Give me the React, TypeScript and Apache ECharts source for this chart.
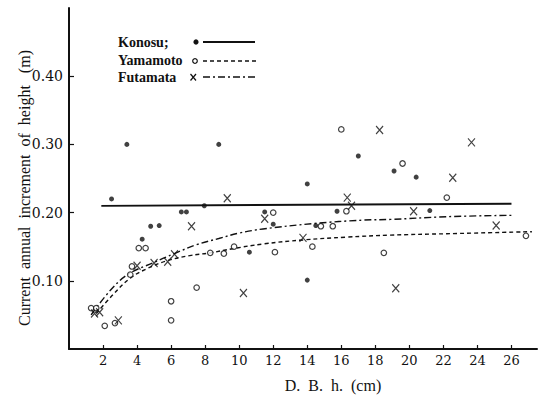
import React, { useEffect, useRef } from "react";
import * as echarts from "echarts";

const xTicks = [2, 4, 6, 8, 10, 12, 14, 16, 18, 20, 22, 24, 26];
const yTicks = [0.1, 0.2, 0.3, 0.4];

const konosuPoints = [
  [2.5, 0.22], [3.4, 0.3], [4.3, 0.161], [4.8, 0.18], [5.3, 0.181], [6.6, 0.201], [6.9, 0.201],
  [7.95, 0.21], [8.8, 0.3], [10.6, 0.142], [11.5, 0.201], [12.0, 0.183], [14.0, 0.242],
  [14.0, 0.101], [14.5, 0.181], [15.75, 0.202], [17.0, 0.283], [19.1, 0.261], [20.4, 0.252],
  [21.2, 0.203],
];

const yamamotoPoints = [
  [1.3, 0.06], [1.6, 0.06], [2.1, 0.034], [2.7, 0.038], [3.6, 0.109], [3.7, 0.121], [4.1, 0.148],
  [4.5, 0.148], [6.0, 0.07], [6.0, 0.042], [7.5, 0.09], [8.3, 0.141], [9.1, 0.14], [9.7, 0.15],
  [12.0, 0.2], [12.1, 0.142], [14.3, 0.15], [14.8, 0.18], [15.5, 0.18], [16.0, 0.322],
  [16.3, 0.202], [18.5, 0.141], [19.6, 0.272], [22.2, 0.222], [26.85, 0.166],
];

const futamataPoints = [
  [1.5, 0.052], [1.8, 0.054], [2.9, 0.042], [4.0, 0.122], [5.0, 0.126], [5.8, 0.128],
  [6.2, 0.139], [7.2, 0.18], [9.3, 0.221], [10.25, 0.082], [11.5, 0.191], [13.75, 0.163],
  [16.35, 0.222], [16.6, 0.21], [18.25, 0.321], [19.2, 0.089], [20.25, 0.202], [22.55, 0.251],
  [23.65, 0.303], [25.1, 0.181],
];

const konosuLine = [[1.9, 0.21], [26.0, 0.213]];

const yamamotoCurve = [
  [1.6, 0.052], [2.6, 0.08], [3.6, 0.104], [4.6, 0.118], [5.7, 0.129], [7.1, 0.137], [8.3, 0.141],
  [9.6, 0.147], [11.4, 0.154], [13.8, 0.16], [16.3, 0.164], [18.9, 0.167], [22.2, 0.169],
  [27.2, 0.172],
];

const futamataCurve = [
  [1.3, 0.05], [2.5, 0.088], [3.5, 0.11], [4.9, 0.126], [6.2, 0.14], [7.5, 0.153], [8.8, 0.162],
  [10.0, 0.17], [11.4, 0.176], [14.4, 0.184], [17.3, 0.189], [18.9, 0.19], [22.2, 0.194],
  [26.0, 0.196],
];

const legendNames = ["Konosu;", "Yamamoto", "Futamata"];
const yName = "Current\u00a0\u00a0annual\u00a0\u00a0increment\u00a0\u00a0of\u00a0\u00a0height\u00a0\u00a0\u00a0(m)";
const xName = "D.\u00a0\u00a0B.\u00a0\u00a0h.\u00a0\u00a0(cm)";

const INK = "#111";
const CROSS = "path://M0,0L10,10M10,0L0,10";
const SERIF = "Liberation Serif";
const TICK_FONT = "DejaVu Serif";

export default function App() {
  const ref = useRef<HTMLDivElement>(null);
  useEffect(() => {
    if (!ref.current) return;
    const chart = echarts.init(ref.current, undefined, { renderer: "svg" });
    const legendText = (text: string, y: number) => ({
      type: "text", x: 118, y,
      style: { text, fontFamily: SERIF, fontSize: 14, fontWeight: "bold", fill: INK, align: "left", verticalAlign: "middle" },
    });
    chart.setOption({
      animation: false,
      backgroundColor: "#fff",
      grid: { left: 69, right: 5, top: 8, bottom: 46, containLabel: false },
      xAxis: {
        type: "value",
        min: 0,
        max: 27.5,
        interval: 2,
        axisLine: { show: true, lineStyle: { color: INK, width: 2 } },
        axisTick: { show: true, inside: true, length: 4, customValues: xTicks, lineStyle: { color: INK, width: 1.2 } },
        axisLabel: { customValues: xTicks, color: INK, fontFamily: TICK_FONT, fontSize: 13, margin: 5 },
        splitLine: { show: false },
      },
      yAxis: {
        type: "value",
        min: 0,
        max: 0.5,
        interval: 0.1,
        axisLine: { show: true, lineStyle: { color: INK, width: 2 } },
        axisTick: { show: true, inside: true, length: 5, customValues: yTicks, lineStyle: { color: INK, width: 1.2 } },
        axisLabel: {
          customValues: yTicks,
          color: INK,
          fontFamily: TICK_FONT,
          fontSize: 14,
          margin: 6,
          formatter: (v: number) => v.toFixed(2),
        },
        splitLine: { show: false },
      },
      series: [
        {
          name: "KonosuLine", type: "line", data: konosuLine, symbol: "none",
          lineStyle: { color: INK, width: 1.8 }, z: 2,
        },
        {
          name: "YamamotoCurve", type: "line", data: yamamotoCurve, symbol: "none", smooth: 0.4,
          lineStyle: { color: INK, width: 1.4, type: [4, 3] }, z: 2,
        },
        {
          name: "FutamataCurve", type: "line", data: futamataCurve, symbol: "none", smooth: 0.4,
          lineStyle: { color: INK, width: 1.4, type: [7, 3, 2, 3] }, z: 2,
        },
        {
          name: legendNames[0], type: "scatter", data: konosuPoints, symbol: "circle", symbolSize: 5,
          itemStyle: { color: INK }, z: 3,
        },
        {
          name: legendNames[1], type: "scatter", data: yamamotoPoints, symbol: "circle", symbolSize: 5.5,
          itemStyle: { color: "#fff", borderColor: INK, borderWidth: 1.2 }, z: 3,
        },
        {
          name: legendNames[2], type: "scatter", data: futamataPoints, symbol: CROSS, symbolSize: [7, 8],
          itemStyle: { color: "rgba(0,0,0,0)", borderColor: INK, borderWidth: 1.2 }, z: 3,
        },
      ],
      graphic: [
        {
          type: "text", x: 24, y: 188, rotation: Math.PI / 2,
          style: { text: yName, fontFamily: SERIF, fontSize: 16, fill: INK, align: "center", verticalAlign: "middle" },
        },
        {
          type: "text", x: 333, y: 385,
          style: { text: xName, fontFamily: SERIF, fontSize: 16, fill: INK, align: "center", verticalAlign: "middle" },
        },
        legendText(legendNames[0], 42),
        legendText(legendNames[1], 60),
        legendText(legendNames[2], 77),
        { type: "circle", shape: { cx: 196, cy: 42, r: 2.6 }, style: { fill: INK } },
        { type: "circle", shape: { cx: 195, cy: 61, r: 2.3 }, style: { fill: "#fff", stroke: INK, lineWidth: 1.2 } },
        { type: "line", shape: { x1: 190.5, y1: 74, x2: 196, y2: 80.5 }, style: { stroke: INK, lineWidth: 1.2 } },
        { type: "line", shape: { x1: 196, y1: 74, x2: 190.5, y2: 80.5 }, style: { stroke: INK, lineWidth: 1.2 } },
        { type: "line", shape: { x1: 203, y1: 42, x2: 255, y2: 42 }, style: { stroke: INK, lineWidth: 1.8 } },
        { type: "line", shape: { x1: 203, y1: 61, x2: 256, y2: 61 }, style: { stroke: INK, lineWidth: 1.3, lineDash: [4, 3] } },
        { type: "line", shape: { x1: 203, y1: 77, x2: 256, y2: 77 }, style: { stroke: INK, lineWidth: 1.3, lineDash: [7, 3, 2, 3] } },
      ],
    });
    return () => chart.dispose();
  }, []);
  return <div ref={ref} style={{ width: 542, height: 395, position: "absolute", left: 0, top: 0 }} />;
}
